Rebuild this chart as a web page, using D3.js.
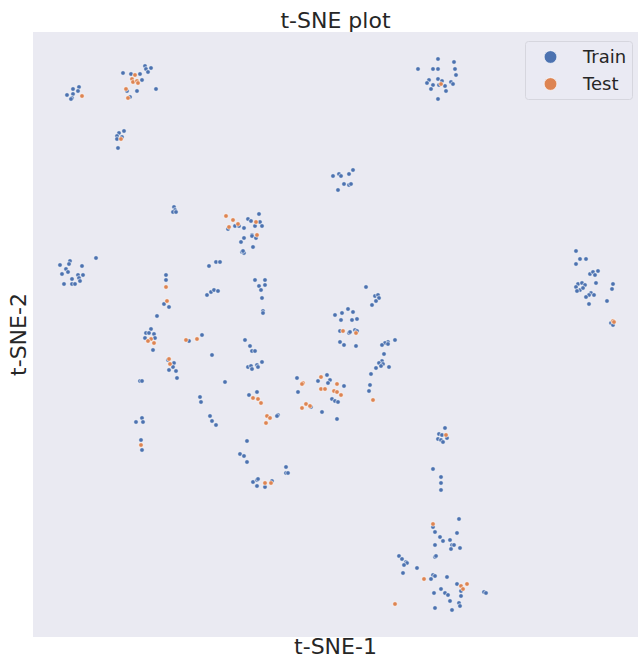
<!DOCTYPE html>
<html>
<head>
<meta charset="utf-8">
<script src="https://cdn.jsdelivr.net/npm/d3@7"></script>
<style>
  body { margin: 0; background: #fff; }
  text { font-family: "DejaVu Sans", sans-serif; fill: #262626; }
</style>
</head>
<body>
<div id="chart"></div>
<script>
// t-SNE embedding values (arbitrary units)
var trainPts = [
  // top-left group
  [34,542],[40,548],[46,550],[45,546],[40,543],[39,539],[38,538],
  [90,564],[98,563],[107,563],[112,571],[113,568],[118,569],[115,565],[109,557],
  [94,546],[104,546],[123,548],[97,540],
  [86,504],[91,506],[89,500],[84,501],[84,498],[85,489],
  [141,430],[142,427],[140,425],[143,425],
  [195,408],[202,411],[206,411],[211,409],[215,418],[218,416],[226,423],[227,415],
  [222,411],[229,411],[219,402],[208,395],[211,399],[219,401],[223,399],[220,390],
  [209,385],[211,384],[210,386],
  // top-right group
  [385,568],[396,557],[394,554],[405,578],[400,568],[405,568],[421,575],[422,568],
  [423,562],[405,558],[409,556],[400,552],[406,552],[412,551],[418,555],[420,553],
  [398,548],[413,546],[405,538],
  [300,461],[306,463],[308,461],[316,463],[320,467],[311,453],[316,452],[318,453],[305,447],
  // left group
  [27,372],[37,376],[36,373],[33,368],[35,365],[29,363],[49,371],[45,362],[50,362],
  [46,359],[39,358],[47,356],[31,353],[39,353],[42,353],[63,379],
  [133,362],[133,357],[131,333],[136,330],[124,321],
  [118,308],[113,304],[116,304],[121,303],[112,299],[122,299],[120,287],
  [135,277],[141,274],[140,270],[136,267],[143,266],[144,259],
  [156,296],[169,302],[179,282],
  [176,371],[183,375],[187,375],[174,342],[178,345],[181,347],[185,346],
  [107,256],[109,256],[192,255],[167,240],[168,235],[177,221],[179,216],[183,212],
  [109,219],[103,215],[110,215],[108,197],[109,187],
  // centre
  [222,357],[232,357],[226,351],[232,352],[228,347],[229,339],[230,326],[230,324],
  [302,322],[309,324],[315,328],[320,325],[308,317],[319,317],[324,318],[307,306],
  [316,304],[317,305],[322,307],[324,306],[307,295],[311,292],[323,291],
  [333,350],[342,341],[345,342],[346,339],[343,336],[339,332],
  [362,297],[355,295],[352,294],[349,292],[355,293],[351,283],[349,276],[346,274],
  [350,273],[348,271],[343,269],[356,270],[338,263],[337,252],[336,246],
  [212,297],[217,291],[219,286],[222,286],[229,275],[224,272],[225,270],[215,270],
  [218,271],[219,268],
  [224,245],[216,242],[245,222],[244,221],
  [264,259],[265,245],[294,262],[297,257],[285,256],[295,254],[311,251],[299,238],
  [302,236],[305,235],[278,230],[289,225],[304,218],
  [214,196],[207,183],[211,181],[214,175],[253,170],[253,164],[255,164],
  [220,155],[224,157],[225,158],[224,151],[232,150],[239,156],
  // bottom-right group
  [412,209],[406,203],[409,202],[405,198],[408,197],[410,195],[414,199],
  [400,168],[408,160],[408,154],[408,147],
  [400,110],[426,118],[402,105],[424,104],[407,100],[410,96],[417,97],[419,92],
  [421,92],[418,88],[427,89],[402,92],[402,80],[403,81],
  [366,81],[369,78],[373,75],[374,74],[371,72],[370,64],[384,69],
  [400,62],[402,61],[398,58],[414,60],[424,53],[428,46],[408,48],[412,44],[415,42],
  [401,44],[428,41],[417,36],[426,34],[427,31],[402,29],[419,27],[451,45],[453,44],
  // far right group
  [543,386],[547,378],[553,378],[543,373],[557,363],[560,365],[565,366],[562,362],
  [563,354],[580,353],[579,348],[545,353],[549,354],[552,352],[543,350],[547,347],
  [550,349],[544,346],[558,344],[561,342],[556,342],[553,340],[556,333],[574,336],
  [578,314],[580,312]
];

var testPts = [
  [49,541],
  [102,562],[99,558],[100,555],[104,556],[105,554],[93,548],[95,539],
  [88,498],
  [193,421],[200,417],[196,410],[205,413],[223,415],[224,402],
  [408,553],
  [133,350],[134,336],
  [118,298],[115,296],[121,294],
  [136,278],[137,273],
  [153,297],[164,298],
  [108,192],
  [310,306],[323,304],
  [340,237],
  [220,239],[225,238],[228,234],[234,221],[237,219],[233,214],
  [270,254],[269,253],[288,260],[288,248],[292,248],[304,253],[301,246],[304,245],
  [308,242],[273,233],[269,229],[277,231],
  [232,154],[238,154],
  [413,202],[400,113],[391,58],[362,33],[428,51],[434,53],[430,48],
  [580,316],[581,315]
];

var seriesNames = ["Train", "Test"];
var seriesColors = ["#4C72B0", "#DD8452"];

var svgWidth = 638;
var svgHeight = 659;

var margin = { top: 32, left: 33 };
var width = 605;
var height = 605;

var svg = d3.select("#chart")
  .append("svg")
  .attr("width", svgWidth)
  .attr("height", svgHeight);

var x = d3.scaleLinear().domain([0, 605]).range([margin.left, margin.left + width]);
var y = d3.scaleLinear().domain([0, 605]).range([margin.top + height, margin.top]);

// axes background
svg.append("rect")
  .attr("x", margin.left)
  .attr("y", margin.top)
  .attr("width", width)
  .attr("height", height)
  .attr("fill", "#EAEAF2");

// points
[trainPts, testPts].forEach(function(pts, i) {
  svg.append("g")
    .selectAll("circle")
    .data(pts)
    .enter()
    .append("circle")
    .attr("cx", d => x(d[0]))
    .attr("cy", d => y(d[1]))
    .attr("r", 2.3)
    .attr("fill", seriesColors[i])
    .attr("stroke", "#fff")
    .attr("stroke-width", 0.6);
});

// title and axis labels
svg.append("text")
  .attr("x", margin.left + width / 2)
  .attr("y", 28)
  .attr("text-anchor", "middle")
  .style("font-size", "22px")
  .text("t-SNE plot");

svg.append("text")
  .attr("x", margin.left + width / 2)
  .attr("y", 654)
  .attr("text-anchor", "middle")
  .style("font-size", "22px")
  .text("t-SNE-1");

svg.append("text")
  .attr("transform", `translate(26, ${margin.top + height / 2}) rotate(-90)`)
  .attr("text-anchor", "middle")
  .style("font-size", "22px")
  .text("t-SNE-2");

// legend
var legend = svg.append("g");
legend.append("rect")
  .attr("x", 525.5)
  .attr("y", 41.5)
  .attr("width", 107)
  .attr("height", 58)
  .attr("rx", 3)
  .attr("fill", "#EAEAF2")
  .attr("fill-opacity", 0.8)
  .attr("stroke", "#d6d6de");

seriesNames.forEach(function(name, i) {
  legend.append("circle")
    .attr("cx", 550.5)
    .attr("cy", 57 + i * 27)
    .attr("r", 6.3)
    .attr("fill", seriesColors[i])
    .attr("stroke", "#fff")
    .attr("stroke-width", 0.6);
  legend.append("text")
    .attr("x", 583)
    .attr("y", 57 + i * 27)
    .attr("dy", "0.35em")
    .style("font-size", "18px")
    .text(name);
});
</script>
</body>
</html>
